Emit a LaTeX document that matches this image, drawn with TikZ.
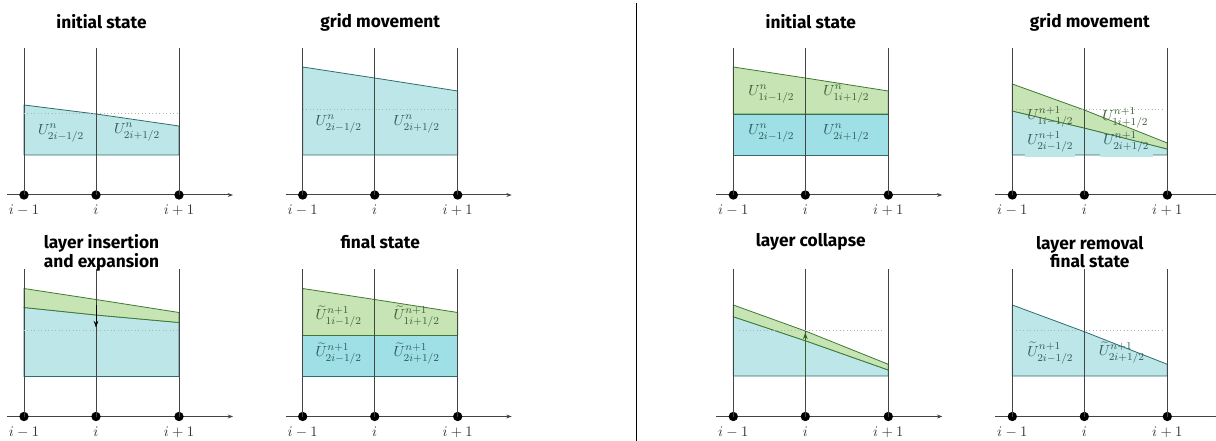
\documentclass[tikz,border=0pt]{standalone}
\usepackage{fontspec}
\newfontfamily\titlefont{Fira Sans}
\usetikzlibrary{arrows.meta}
\definecolor{cyanL}{HTML}{BDE6E8}
\definecolor{cyanD}{HTML}{9FE0E6}
\definecolor{greenL}{HTML}{C7E4B5}
\definecolor{cyanE}{HTML}{2E6E6E}
\definecolor{greenE}{HTML}{3F7A30}
\definecolor{gridc}{HTML}{444444}
\definecolor{axc}{HTML}{333333}
\definecolor{labc}{HTML}{2F5A5A}
\definecolor{labg}{HTML}{3E5C35}
\tikzset{
  gridline/.style={draw=gridc, line width=0.75pt},
  axisline/.style={draw=gridc, line width=0.75pt, -{Stealth[length=4pt,width=3pt]}},
  dot/.style={circle, fill=black, inner sep=0pt, minimum size=7pt},
  xlab/.style={text=axc, inner sep=0pt, anchor=base},
  ptitle/.style={font=\titlefont\bfseries\fontsize{13}{14}\selectfont, align=center, inner sep=0pt},
  cyanreg/.style={fill=cyanL, draw=cyanE, line width=0.6pt},
  cyanregD/.style={fill=cyanD, draw=cyanE, line width=0.6pt},
  greenreg/.style={fill=greenL, draw=greenE, line width=0.6pt},
  dotline/.style={draw=gray!60, dotted, line width=0.6pt},
  ulab/.style={text=labc, inner sep=1pt},
  glab/.style={text=labg, inner sep=1pt},
  movearrow/.style={line width=0.75pt, -{Stealth[length=5pt,width=3.5pt]}},
}
\newcommand\gridbase[1]{%
  \coordinate (#1a0) at (7,195);
  \coordinate (#1a1) at (233,195);
  \draw[axisline] (#1a0) -- (#1a1);
  \foreach \x/\n/\l in {24/l/i-1, 96/m/i, 179/r/i+1}{%
    \coordinate (#1t\n) at (\x,48);
    \node[dot] (#1d\n) at (\x,195) {};
    \draw[gridline] (#1t\n) -- (#1d\n.center);
    \node[xlab] (#1x\n) at (\x,215) {$\l$};
  }%
}
\begin{document}
\begin{tikzpicture}[x=0.75pt,y=-0.75pt,font=\fontsize{11.3}{13}\selectfont]
\useasboundingbox (0,0) rectangle (1216,441);
% separator
\coordinate (s0) at (636.7,3);
\coordinate (s1) at (636.7,440.5);
\draw[line width=0.9pt] (s0) -- (s1);

% ---------- Panel 1: initial state ----------
\begin{scope}
  \path[cyanreg] (24,105) -- (96,114) -- (179,126) -- (179,155) -- (24,155) -- cycle;
  \gridbase{pa}
  \draw[dotline] (24,113) -- (179,113);
  \node[ulab] (pau1) at (61,133) {$U^n_{2i-1/2}$};
  \node[ulab] (pau2) at (137,132) {$U^n_{2i+1/2}$};
  \node[ptitle] (pati) at (101.5,22) {initial state};
\end{scope}

% ---------- Panel 2: grid movement ----------
\begin{scope}[shift={(278.7,0)}]
  \path[cyanreg] (24,67) -- (96,78) -- (179,91) -- (179,155) -- (24,155) -- cycle;
  \gridbase{pb}
  \draw[dotline] (24,109) -- (179,109);
  \node[ulab] (pbu1) at (60,124) {$U^n_{2i-1/2}$};
  \node[ulab] (pbu2) at (138,124) {$U^n_{2i+1/2}$};
  \node[ptitle] (pbti) at (101.5,22) {grid movement};
\end{scope}

% ---------- Panel 3: layer insertion ----------
\begin{scope}[shift={(0,221.5)}]
  \path[cyanreg] (24,86) -- (96,93.5) -- (179,101) -- (179,155) -- (24,155) -- cycle;
  \path[greenreg] (24,67) -- (96,78) -- (179,91) -- (179,101) -- (96,93.5) -- (24,86) -- cycle;
  \gridbase{pc}
  \draw[dotline] (24,109) -- (179,109);
  \coordinate (pcs) at (96,84);
  \coordinate (pce) at (96,106);
  \draw[movearrow] (pcs) -- (pce);
  \node[ptitle] (pcti) at (101.5,31.5) {layer insertion\\and expansion};
\end{scope}

% ---------- Panel 4: final state ----------
\begin{scope}[shift={(278.7,221.5)}]
  \path[cyanregD] (24,114) rectangle (179,155);
  \path[greenreg] (24,67) -- (96,78) -- (179,91) -- (179,114) -- (24,114) -- cycle;
  \gridbase{pd}
  \node[glab] (pdu1) at (60,95) {$\widetilde{U}^{n+1}_{1i-1/2}$};
  \node[glab] (pdu2) at (138,95) {$\widetilde{U}^{n+1}_{1i+1/2}$};
  \node[ulab] (pdu3) at (60,132) {$\widetilde{U}^{n+1}_{2i-1/2}$};
  \node[ulab] (pdu4) at (138,132) {$\widetilde{U}^{n+1}_{2i+1/2}$};
  \node[ptitle] (pdti) at (101.5,20.5) {final state};
\end{scope}

% ---------- Panel 5: initial state (right) ----------
\begin{scope}[shift={(709.3,0)}]
  \path[cyanregD] (24,114) rectangle (179,155);
  \path[greenreg] (24,67) -- (96,78) -- (179,91) -- (179,114) -- (24,114) -- cycle;
  \gridbase{pe}
  \node[glab] (peu1) at (62,94) {$U^n_{1i-1/2}$};
  \node[glab] (peu2) at (137,94) {$U^n_{1i+1/2}$};
  \node[ulab] (peu3) at (62,133) {$U^n_{2i-1/2}$};
  \node[ulab] (peu4) at (137,133) {$U^n_{2i+1/2}$};
  \node[ptitle] (peti) at (101.5,22) {initial state};
\end{scope}

% ---------- Panel 6: grid movement (right) ----------
\begin{scope}[shift={(988.3,0)}]
  \path[cyanreg] (24,111) -- (96,128) -- (179,149) -- (179,155) -- (24,155) -- cycle;
  \path[greenreg] (24,84) -- (96,110) -- (179,143) -- (179,149) -- (96,128) -- (24,111) -- cycle;
  \gridbase{pf}
  \begin{scope}
    \clip (24.5,112) -- (96,129) -- (178.5,150) -- (178.5,160) -- (24.5,160) -- cycle;
    \fill[cyanL] (37,128) rectangle (87,157);
    \fill[cyanL] (112,128) rectangle (165,157);
  \end{scope}
  \draw[dotline] (28,109) -- (175,109);
  \node[glab] (pfu1) at (62,117) {$U^{n+1}_{1i-1/2}$};
  \node[glab] (pfu2) at (137,118) {$U^{n+1}_{1i+1/2}$};
  \node[ulab] (pfu3) at (62,142) {$U^{n+1}_{2i-1/2}$};
  \node[ulab] (pfu4) at (138,142) {$U^{n+1}_{2i+1/2}$};
  \node[ptitle] (pfti) at (101.5,22) {grid movement};
\end{scope}

% ---------- Panel 7: layer collapse ----------
\begin{scope}[shift={(709.3,221.5)}]
  \path[cyanreg] (24,95.2) -- (96,119.2) -- (179,148.5) -- (179,154.5) -- (24,154.5) -- cycle;
  \path[greenreg] (24,83.5) -- (96,109.5) -- (179,142.8) -- (179,148.5) -- (96,119.2) -- (24,95.2) -- cycle;
  \gridbase{pg}
  \draw[dotline] (30,108.5) -- (174,108.5);
  \coordinate (pgs) at (96,154);
  \coordinate (pge) at (96,111);
  \draw[movearrow, draw=greenE!80!black, fill=greenE!80!black] (pgs) -- (pge);
  \node[ptitle] (pgti) at (101.5,20.5) {layer collapse};
\end{scope}

% ---------- Panel 8: layer removal, final state ----------
\begin{scope}[shift={(988.3,221.5)}]
  \path[cyanreg] (24,83.5) -- (96,110.2) -- (179,142.8) -- (179,154.5) -- (24,154.5) -- cycle;
  \gridbase{ph}
  \draw[dotline] (28,108.5) -- (175,108.5);
  \node[ulab] (phu1) at (62,131.5) {$\widetilde{U}^{n+1}_{2i-1/2}$};
  \node[ulab] (phu2) at (133.5,131) {$\widetilde{U}^{n+1}_{2i+1/2}$};
  \node[ptitle] (phti) at (101.5,30.5) {layer removal\\final state};
\end{scope}
\end{tikzpicture}
\end{document}
